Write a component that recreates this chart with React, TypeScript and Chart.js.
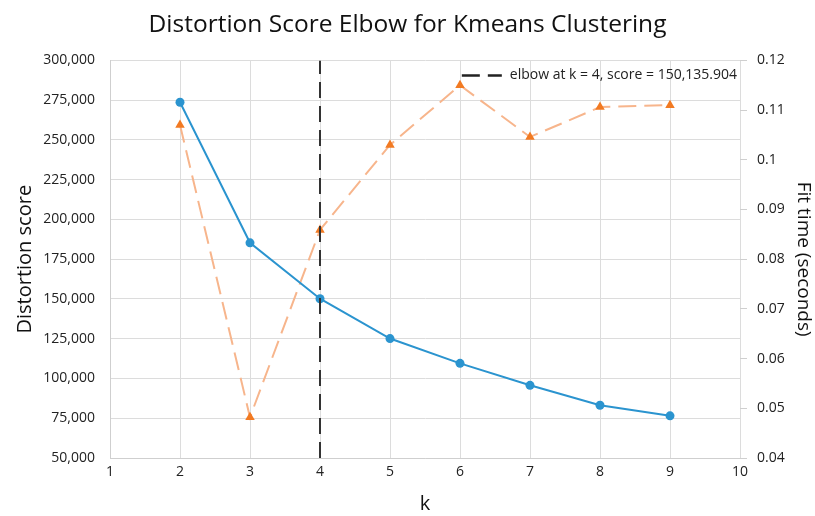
import React, { useEffect, useRef } from "react";
import { Chart, registerables } from "chart.js";

Chart.register(...registerables);

const kValues = [2, 3, 4, 5, 6, 7, 8, 9];
const distortionScores = [273700, 185300, 150135.904, 125100, 109500, 95700, 83200, 76500];
const fitTimes = [0.107, 0.0482, 0.0859, 0.103, 0.115, 0.1046, 0.1106, 0.111];
const elbowK = 4;
const elbowLabel = "elbow at k = 4, score = 150,135.904";

const FONT = "'Open Sans', 'DejaVu Sans', sans-serif";

const elbowLegend = {
  id: "elbowLegend",
  afterDraw(chart: any) {
    const { ctx, chartArea } = chart;
    ctx.save();
    ctx.font = `14px ${FONT}`;
    ctx.fillStyle = "#222";
    ctx.textAlign = "right";
    ctx.textBaseline = "middle";
    const y = chartArea.top + 15;
    const xr = chartArea.right - 3;
    ctx.fillText(elbowLabel, xr, y);
    const w = ctx.measureText(elbowLabel).width;
    const lx = xr - w - 8;
    ctx.strokeStyle = "#222";
    ctx.lineWidth = 2.5;
    ctx.setLineDash([18, 8]);
    ctx.beginPath();
    ctx.moveTo(lx - 40, y);
    ctx.lineTo(lx, y);
    ctx.stroke();
    ctx.restore();
  },
};

export default function App() {
  const ref = useRef<HTMLCanvasElement | null>(null);
  useEffect(() => {
    if (!ref.current) return;
    const chart = new Chart(ref.current, {
      type: "line",
      data: {
        datasets: [
          {
            label: "distortion",
            data: kValues.map((k, i) => ({ x: k, y: distortionScores[i] })),
            yAxisID: "y",
            borderColor: "#2b94cf",
            backgroundColor: "#2b94cf",
            borderWidth: 2,
            pointRadius: 4.5,
            pointStyle: "circle",
            pointBorderWidth: 0,
            order: 1,
          },
          {
            label: "fit time",
            data: kValues.map((k, i) => ({ x: k, y: fitTimes[i] })),
            yAxisID: "y1",
            borderColor: "#f7b58c",
            backgroundColor: "#f27a22",
            borderWidth: 2,
            borderDash: [18, 8],
            pointRadius: 5.5,
            pointStyle: "triangle",
            pointBorderWidth: 0,
            order: 2,
          },
          {
            label: elbowLabel,
            data: [
              { x: elbowK, y: 50000 },
              { x: elbowK, y: 300000 },
            ],
            yAxisID: "y",
            borderColor: "#333333",
            backgroundColor: "#333333",
            borderWidth: 2,
            borderDash: [16, 8],
            pointRadius: 0,
            order: 0,
          },
        ],
      },
      options: {
        animation: false,
        responsive: true,
        maintainAspectRatio: false,
        layout: { padding: { left: 0, right: 0, top: 4, bottom: 0 } },
        plugins: {
          title: {
            display: true,
            text: "Distortion Score Elbow for Kmeans Clustering",
            color: "#111",
            font: { family: FONT, size: 24.5, weight: "normal" },
            padding: { top: 6, bottom: 21 },
          },
          legend: { display: false },
          tooltip: { enabled: false },
        },
        scales: {
          x: {
            type: "linear",
            min: 1,
            max: 10,
            afterFit: (s: any) => { s.height = 58; },
            ticks: { stepSize: 1, color: "#222", font: { family: FONT, size: 14 }, padding: 6 },
            grid: { color: "#dcdcdc", tickLength: 0 },
            border: { color: "#cfcfcf" },
            title: { display: true, text: "k", color: "#111", font: { family: FONT, size: 20 }, padding: { top: 13, bottom: 0 } },
          },
          y: {
            type: "linear",
            position: "left",
            min: 50000,
            max: 300000,
            afterFit: (s: any) => { s.width = 110; },
            ticks: {
              stepSize: 25000,
              color: "#222",
              font: { family: FONT, size: 14 },
              padding: 15,
              callback: (v: any) => Number(v).toLocaleString("en-US"),
            },
            grid: { color: "#dcdcdc", tickLength: 0 },
            border: { color: "#cfcfcf" },
            title: { display: true, text: "Distortion score", color: "#111", font: { family: FONT, size: 20 }, padding: { top: 13, bottom: 5 } },
          },
          y1: {
            type: "linear",
            position: "right",
            min: 0.04,
            max: 0.12,
            afterFit: (s: any) => { s.width = 75; },
            ticks: {
              stepSize: 0.01,
              color: "#222",
              font: { family: FONT, size: 14 },
              padding: 10,
              callback: (v: any) => String(Number(Number(v).toFixed(2))),
            },
            grid: { drawOnChartArea: false, color: "#cfcfcf", tickLength: 7 },
            border: { display: false },
            title: { display: true, text: "Fit time (seconds)", color: "#111", font: { family: FONT, size: 19 }, padding: { top: 0, bottom: 7 } },
          },
        },
      },
      plugins: [elbowLegend],
    });
    return () => chart.destroy();
  }, []);
  return (
    <div style={{ position: "fixed", left: 0, top: 0, width: 815, height: 516, background: "#fff" }}>
      <canvas ref={ref} />
    </div>
  );
}
